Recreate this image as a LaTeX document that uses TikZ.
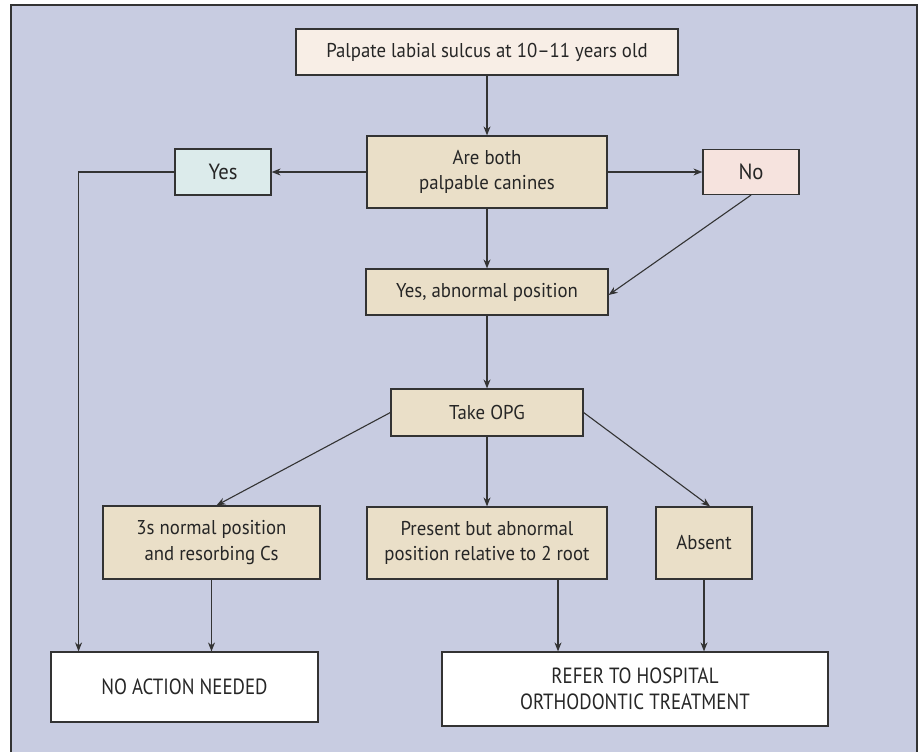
\documentclass[tikz,border=0pt]{standalone}
\usepackage{fontspec}
\setmainfont{PT Sans}[FakeStretch=0.94]
\newfontfamily\condfont{PT Sans}[FakeStretch=0.86]
\usetikzlibrary{arrows.meta,calc}
\definecolor{bgblue}{HTML}{C8CCE1}
\definecolor{tanfill}{HTML}{EADFC8}
\definecolor{creamfill}{HTML}{F8EEE6}
\definecolor{yesfill}{HTML}{DCEBEB}
\definecolor{nofill}{HTML}{F6E3DE}
\definecolor{edge}{HTML}{333333}
\tikzset{
  boxbase/.style={draw=edge, line width=1.2pt, inner sep=0pt, align=center, text=black!85},
  tanbox/.style={boxbase, fill=tanfill, font=\fontsize{20}{25.5}\selectfont},
  whitebox/.style={boxbase, fill=white, font=\condfont\fontsize{22}{26}\selectfont},
  arr/.style={draw=edge, line width=1.1pt, -{Stealth[length=9pt,width=7pt]}},
  plain/.style={draw=edge, line width=1.1pt}
}
\begin{document}
\begin{tikzpicture}[x=1pt,y=-1pt]
\useasboundingbox (0,0) rectangle (920,752);
\fill[white] (0,0) rectangle (920,752);
\fill[bgblue] (11,5) rectangle (917,752);
\draw[edge, line width=1.2pt] (11,752) -- (11,5) -- (917,5) -- (917,752);

\node[tanbox, fill=creamfill, minimum width=382pt, minimum height=46pt] (top) at (487,52) {Palpate labial sulcus at 10–11 years old};
\node[tanbox, minimum width=240pt, minimum height=72pt] (are) at (487,172) {Are both\\palpable canines};
\node[tanbox, fill=yesfill, minimum width=96pt, minimum height=46pt, font=\fontsize{22}{26}\selectfont] (yes) at (223,172) {Yes};
\node[tanbox, fill=nofill, minimum width=96pt, minimum height=45pt, font=\fontsize{22}{26}\selectfont] (no) at (751,172) {No};
\node[tanbox, minimum width=242pt, minimum height=46pt] (yesab) at (487,292) {Yes, abnormal position};
\node[tanbox, minimum width=192pt, minimum height=47pt] (opg) at (487,412.5) {Take OPG};
\node[tanbox, minimum width=217pt, minimum height=73pt] (three) at (211.5,542.5) {3s normal position\\and resorbing Cs};
\node[tanbox, minimum width=240pt, minimum height=72pt] (present) at (487,543) {Present but abnormal\\position relative to 2 root};
\node[tanbox, minimum width=96pt, minimum height=72pt] (absent) at (704,543) {Absent};
\node[whitebox, minimum width=267pt, minimum height=70pt] (noact) at (184.5,687) {NO ACTION NEEDED};
\node[whitebox, minimum width=386pt, minimum height=74pt] (refer) at (635,689) {REFER TO HOSPITAL\\ORTHODONTIC TREATMENT};

\draw[arr] (top.south) -- (are.north);
\draw[arr] (are.west) -- (yes.east);
\draw[arr] (are.east) -- (no.west);
\draw[arr] (yes.west) -| ($(noact.north west)!0.105!(noact.north east)$);
\draw[arr] (are.south) -- (yesab.north);
\draw[arr] (no.south) -- ([yshift=-3pt]yesab.east);
\draw[arr] (yesab.south) -- (opg.north);
\draw[arr] (opg.west) -- ([xshift=5pt]three.north);
\draw[arr] (opg.south) -- (present.north);
\draw[arr] (opg.east) -- ([xshift=6pt]absent.north);
\draw[arr] (three.south) -- (three.south |- noact.north);
\draw[arr] ([xshift=71pt]present.south) -- ([xshift=71pt]present.south |- refer.north);
\draw[arr] (absent.south) -- (absent.south |- refer.north);
\end{tikzpicture}
\end{document}
